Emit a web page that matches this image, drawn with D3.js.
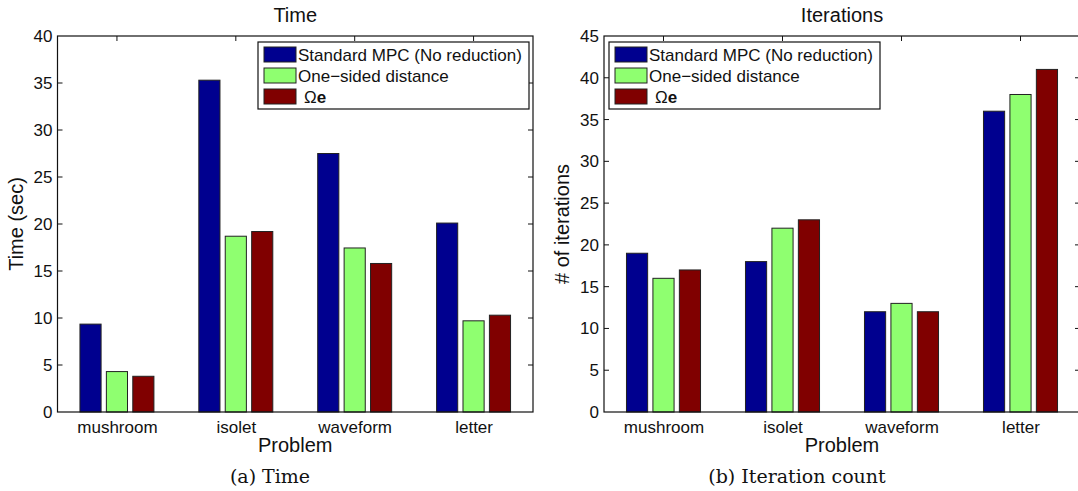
<!DOCTYPE html>
<html>
<head>
<meta charset="utf-8">
<script src="https://cdn.jsdelivr.net/npm/d3@7"></script>
<style>
  body { margin: 0; background: #fff; }
  svg { display: block; }
  text { font-family: "Liberation Sans", Arial, Helvetica, sans-serif; fill: #111; }
  .caption { font-family: "DejaVu Serif", "Liberation Serif", serif; }
</style>
</head>
<body>
<svg id="fig" width="1078" height="491"></svg>
<script>
// Problems and series
const problems = ["mushroom", "isolet", "waveform", "letter"];
const seriesNames = ["Standard MPC (No reduction)", "One\u2212sided distance", "\u03A9e"];
const seriesColors = ["#00008F", "#8FFF70", "#800000"];

// Solve time (seconds) per problem, one array per method
const timeStandard = [9.35, 35.3, 27.5, 20.1];
const timeOneSided = [4.3, 18.7, 17.45, 9.7];
const timeOmega    = [3.8, 19.2, 15.8, 10.3];

// Iteration counts per problem, one array per method
const iterStandard = [19, 18, 12, 36];
const iterOneSided = [16, 22, 13, 38];
const iterOmega    = [17, 23, 12, 41];

const timeTicks = [0, 5, 10, 15, 20, 25, 30, 35, 40];
const iterTicks = [0, 5, 10, 15, 20, 25, 30, 35, 40, 45];

const svg = d3.select("#fig");

function panel(opts) {
  const { left, right, top, bottom, yMax, ticks, series, title, ylabel, caption, captionX, legendX } = opts;
  const g = svg.append("g");

  // Category positions 1..n on a linear axis, limits [0.5, n + 0.5]
  const x = d3.scaleLinear().domain([0.5, problems.length + 0.5]).range([left, right]);
  const y = d3.scaleLinear().domain([0, yMax]).range([bottom, top]);

  const nS = series.length;
  const groupW = Math.min(0.8, nS / (nS + 1.5));
  const slot = groupW / nS;
  const barW = slot * 0.8;

  // Bars
  series.forEach((vals, si) => {
    const off = -groupW / 2 + slot * (si + 0.5);
    g.append("g").selectAll("rect").data(vals).join("rect")
      .attr("x", (d, i) => x(i + 1 + off - barW / 2))
      .attr("width", (d, i) => x(i + 1 + off + barW / 2) - x(i + 1 + off - barW / 2))
      .attr("y", d => y(d))
      .attr("height", d => y(0) - y(d))
      .attr("fill", seriesColors[si])
      .attr("stroke", "#222")
      .attr("stroke-width", 1);
  });

  // Left y axis labels
  const yAxis = d3.axisLeft(y).tickValues(ticks).tickSize(0).tickPadding(5).tickFormat(d3.format("d"));
  const ya = g.append("g").attr("transform", `translate(${left},0)`).call(yAxis);
  ya.select(".domain").remove();
  ya.selectAll("text").style("font-size", "17px").attr("fill", "#111");

  // Bottom x axis labels
  const xAxis = d3.axisBottom(x).tickValues(d3.range(1, problems.length + 1)).tickSize(0).tickPadding(9)
    .tickFormat((d, i) => problems[i]);
  const xa = g.append("g").attr("transform", `translate(0,${bottom})`).call(xAxis);
  xa.select(".domain").remove();
  xa.selectAll("text").style("font-size", "17px").attr("fill", "#111");

  // Tick marks on all four sides, pointing inward
  const tl = 5;
  const tickG = g.append("g").attr("stroke", "#111").attr("stroke-width", 1);
  ticks.forEach(t => {
    if (t === 0 || t === yMax) return;
    tickG.append("line").attr("x1", left).attr("x2", left + tl).attr("y1", y(t)).attr("y2", y(t));
    tickG.append("line").attr("x1", right).attr("x2", right - tl).attr("y1", y(t)).attr("y2", y(t));
  });
  d3.range(1, problems.length + 1).forEach(c => {
    tickG.append("line").attr("x1", x(c)).attr("x2", x(c)).attr("y1", top).attr("y2", top + tl);
  });

  // Axes box
  g.append("rect").attr("x", left).attr("y", top).attr("width", right - left).attr("height", bottom - top)
    .attr("fill", "none").attr("stroke", "#111").attr("stroke-width", 1.2);

  // Title and axis labels
  g.append("text").attr("x", (left + right) / 2).attr("y", 22).attr("text-anchor", "middle")
    .style("font-size", "20px").text(title);
  g.append("text").attr("x", (left + right) / 2).attr("y", 452).attr("text-anchor", "middle")
    .style("font-size", "20px").text("Problem");
  g.append("text").attr("transform", `translate(${left - 35},${(top + bottom) / 2}) rotate(-90)`)
    .attr("text-anchor", "middle").style("font-size", "20px").text(ylabel);

  // Caption below the panel
  g.append("text").attr("class", "caption").attr("x", captionX).attr("y", 483).attr("text-anchor", "middle")
    .style("font-size", "19px").text(caption);

  // Legend
  const lg = g.append("g");
  const lx = legendX, ly = top + 6, lw = 271, lh = 67;
  lg.append("rect").attr("x", lx).attr("y", ly).attr("width", lw).attr("height", lh)
    .attr("fill", "#fff").attr("stroke", "#111").attr("stroke-width", 1.2);
  seriesNames.forEach((name, si) => {
    const cy = ly + 12.5 + si * 21;
    lg.append("rect").attr("x", lx + 6).attr("y", cy - 7.5).attr("width", 32).attr("height", 15)
      .attr("fill", seriesColors[si]).attr("stroke", "#222").attr("stroke-width", 1);
    const t = lg.append("text").attr("x", lx + 40).attr("y", cy + 6).style("font-size", "17px");
    if (si === 2) {
      t.append("tspan").attr("dx", 6).text(name.slice(0, 1));
      t.append("tspan").style("font-weight", "bold").text(name.slice(1));
    } else {
      t.text(name);
    }
  });
}

panel({
  left: 57.5, right: 533, top: 36, bottom: 412, yMax: 40, ticks: timeTicks,
  series: [timeStandard, timeOneSided, timeOmega],
  title: "Time", ylabel: "Time (sec)", caption: "(a) Time", captionX: 270,
  legendX: 258
});

panel({
  left: 604, right: 1080, top: 36, bottom: 412, yMax: 45, ticks: iterTicks,
  series: [iterStandard, iterOneSided, iterOmega],
  title: "Iterations", ylabel: "# of iterations", caption: "(b) Iteration count", captionX: 797,
  legendX: 609
});
</script>
</body>
</html>
